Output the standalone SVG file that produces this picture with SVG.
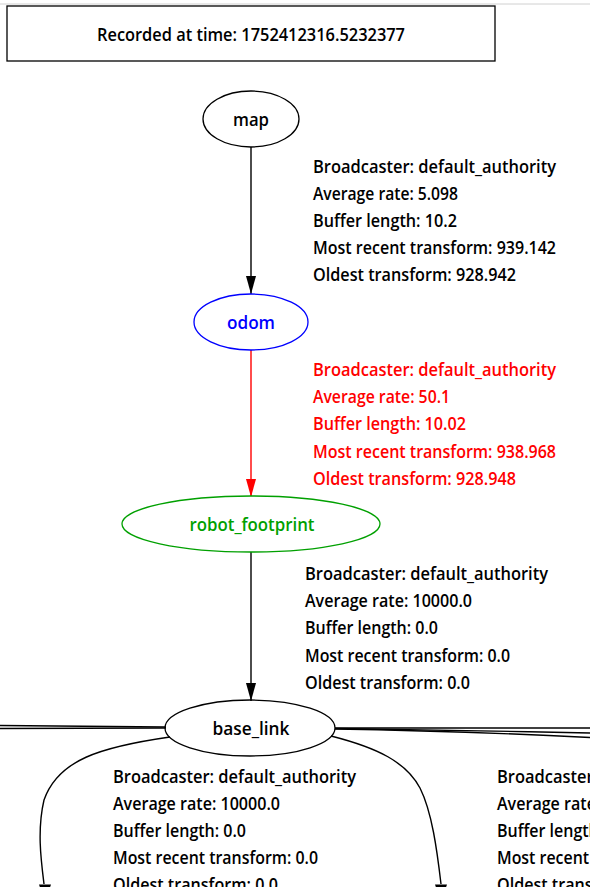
<svg xmlns="http://www.w3.org/2000/svg" width="590" height="887" viewBox="0 0 590 887">
<defs>
<style>
text{font-family:"Open Sans","Liberation Sans",Arial,sans-serif;font-size:18px;font-weight:600;fill:#000}
.c{text-anchor:middle}
.n{fill:none;stroke:#000;stroke-width:1.3}
.e{fill:none;stroke:#000;stroke-width:1.4}
.r{fill:#ff0000 !important}
</style>
<marker id="ah" markerWidth="18" markerHeight="10" refX="18" refY="5" orient="auto" markerUnits="userSpaceOnUse"><path d="M0,0 L18,5 L0,10 Z" fill="#000"/></marker>
<marker id="ahr" markerWidth="18" markerHeight="10" refX="18" refY="5" orient="auto" markerUnits="userSpaceOnUse"><path d="M0,0 L18,5 L0,10 Z" fill="#ff0000"/></marker>
</defs>
<rect x="0" y="0" width="590" height="887" fill="#fff"/>
<line x1="0" y1="4" x2="590" y2="4" stroke="#d0d0d0" stroke-width="1"/>
<g id="title">
<rect x="7" y="6" width="488" height="55" fill="#fff" stroke="#000" stroke-width="1.3"/>
<text x="251" y="41" class="c" textLength="308" lengthAdjust="spacingAndGlyphs">Recorded at time: 1752412316.5232377</text>
</g>
<g id="connectors">
<line class="e" x1="251" y1="147" x2="251" y2="294" marker-end="url(#ah)"/>
<line x1="251" y1="349" x2="251" y2="497" stroke="#ff0000" stroke-width="1.4" marker-end="url(#ahr)"/>
<line class="e" x1="251" y1="552" x2="251" y2="701" marker-end="url(#ah)"/>
<path class="e" d="M166,727 L0,725.5"/>
<path class="e" d="M166,728 L0,728.5"/>
<path class="e" d="M335,728 L590,728"/>
<path class="e" d="M335,728.5 C400,729 500,731 590,733"/>
<path class="e" d="M335,729 C400,730 500,733 590,737.5"/>
<path class="e" d="M170,737 C100,747 58,760 44,800 C37,830 41,860 44,884"/>
<path class="e" d="M331,736 C378,748 406,762 420,788 C432,812 437,850 441,884"/>
<polygon points="39,884.5 51,884.5 45,902" fill="#000"/>
<polygon points="435,884.5 447,884.5 441,902" fill="#000"/>
</g>
<g id="label_map_odom">
<text x="313" y="173" textLength="243" lengthAdjust="spacingAndGlyphs">Broadcaster: default_authority</text>
<text x="313" y="200" textLength="145" lengthAdjust="spacingAndGlyphs">Average rate: 5.098</text>
<text x="313" y="227" textLength="144" lengthAdjust="spacingAndGlyphs">Buffer length: 10.2</text>
<text x="313" y="254" textLength="243" lengthAdjust="spacingAndGlyphs">Most recent transform: 939.142</text>
<text x="313" y="281" textLength="203" lengthAdjust="spacingAndGlyphs">Oldest transform: 928.942</text>
</g>
<g id="label_odom_footprint">
<text class="r" x="313" y="376" textLength="243" lengthAdjust="spacingAndGlyphs">Broadcaster: default_authority</text>
<text class="r" x="313" y="403" textLength="137" lengthAdjust="spacingAndGlyphs">Average rate: 50.1</text>
<text class="r" x="313" y="430" textLength="153" lengthAdjust="spacingAndGlyphs">Buffer length: 10.02</text>
<text class="r" x="313" y="458" textLength="243" lengthAdjust="spacingAndGlyphs">Most recent transform: 938.968</text>
<text class="r" x="313" y="485" textLength="203" lengthAdjust="spacingAndGlyphs">Oldest transform: 928.948</text>
</g>
<g id="label_footprint_base">
<text x="305" y="580" textLength="243" lengthAdjust="spacingAndGlyphs">Broadcaster: default_authority</text>
<text x="305" y="607" textLength="167" lengthAdjust="spacingAndGlyphs">Average rate: 10000.0</text>
<text x="305" y="634" textLength="133" lengthAdjust="spacingAndGlyphs">Buffer length: 0.0</text>
<text x="305" y="662" textLength="205" lengthAdjust="spacingAndGlyphs">Most recent transform: 0.0</text>
<text x="305" y="689" textLength="165" lengthAdjust="spacingAndGlyphs">Oldest transform: 0.0</text>
</g>
<g id="label_base_left">
<text x="113" y="783" textLength="243" lengthAdjust="spacingAndGlyphs">Broadcaster: default_authority</text>
<text x="113" y="810" textLength="167" lengthAdjust="spacingAndGlyphs">Average rate: 10000.0</text>
<text x="113" y="837" textLength="133" lengthAdjust="spacingAndGlyphs">Buffer length: 0.0</text>
<text x="113" y="864" textLength="205" lengthAdjust="spacingAndGlyphs">Most recent transform: 0.0</text>
<text x="113" y="891" textLength="165" lengthAdjust="spacingAndGlyphs">Oldest transform: 0.0</text>
</g>
<g id="label_base_right">
<text x="497" y="783" textLength="243" lengthAdjust="spacingAndGlyphs">Broadcaster: default_authority</text>
<text x="497" y="810" textLength="167" lengthAdjust="spacingAndGlyphs">Average rate: 10000.0</text>
<text x="497" y="837" textLength="133" lengthAdjust="spacingAndGlyphs">Buffer length: 0.0</text>
<text x="497" y="864" textLength="205" lengthAdjust="spacingAndGlyphs">Most recent transform: 0.0</text>
<text x="497" y="891" textLength="165" lengthAdjust="spacingAndGlyphs">Oldest transform: 0.0</text>
</g>
<g id="node_map">
<ellipse class="n" cx="251" cy="119" rx="48" ry="28" fill="#fff"/>
<text x="251" y="126" class="c" textLength="36" lengthAdjust="spacingAndGlyphs">map</text>
</g>
<g id="node_odom">
<ellipse cx="251" cy="322" rx="57" ry="28" fill="#fff" stroke="#0000ff" stroke-width="1.3"/>
<text x="251" y="329" class="c" style="fill:#0000ff" textLength="48" lengthAdjust="spacingAndGlyphs">odom</text>
</g>
<g id="node_robot_footprint">
<ellipse cx="251" cy="524" rx="129" ry="28" fill="#fff" stroke="#00a000" stroke-width="1.3"/>
<text x="252" y="531" class="c" style="fill:#00a000" textLength="125" lengthAdjust="spacingAndGlyphs">robot_footprint</text>
</g>
<g id="node_base_link">
<ellipse class="n" cx="250" cy="728" rx="85" ry="28" fill="#fff"/>
<text x="251" y="735" class="c" textLength="77" lengthAdjust="spacingAndGlyphs">base_link</text>
</g>
</svg>
